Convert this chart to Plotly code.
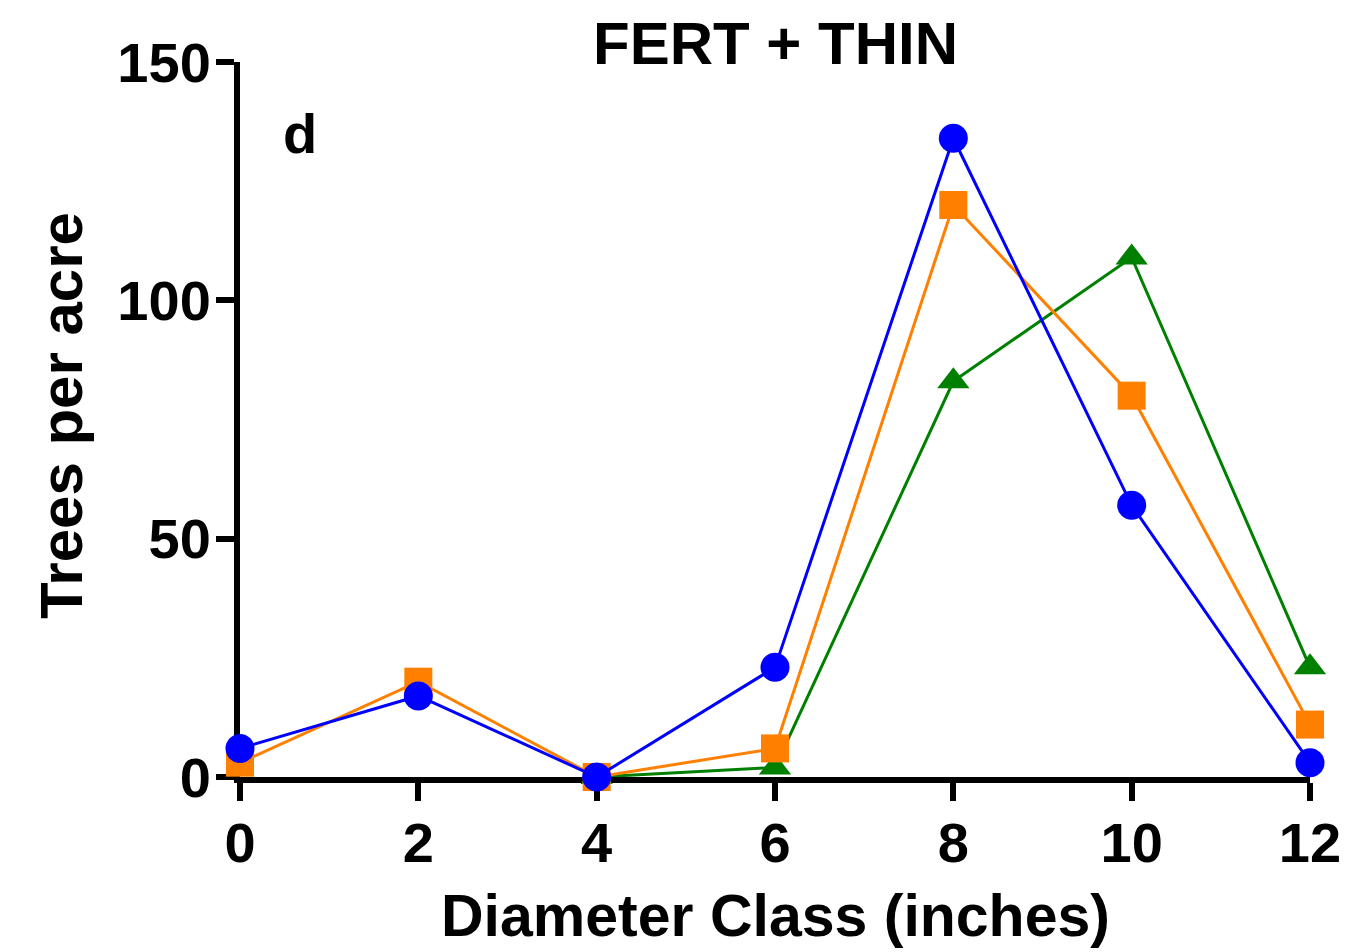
import plotly.graph_objects as go

diameter = [0, 2, 4, 6, 8, 10, 12]
blue_vals = [6, 17, 0, 23, 134, 57, 3]
orange_vals = [3, 20, 0, 6, 120, 80, 11]
green_vals = [None, None, 0, 2, 83, 109, 23]
x_ticks = [0, 2, 4, 6, 8, 10, 12]
y_ticks = [0, 50, 100, 150]

FONT = "Liberation Sans, Arial, sans-serif"

fig = go.Figure()
fig.add_trace(go.Scatter(
    x=diameter, y=green_vals, mode="lines+markers", cliponaxis=False,
    line=dict(color="#008000", width=3),
    marker=dict(symbol="triangle-up", size=28, color="#008000"),
    showlegend=False))
fig.add_trace(go.Scatter(
    x=diameter, y=orange_vals, mode="lines+markers", cliponaxis=False,
    line=dict(color="#FF8000", width=3),
    marker=dict(symbol="square", size=28, color="#FF8000"),
    showlegend=False))
fig.add_trace(go.Scatter(
    x=diameter, y=blue_vals, mode="lines+markers", cliponaxis=False,
    line=dict(color="#0000FF", width=3),
    marker=dict(symbol="circle", size=29, color="#0000FF"),
    showlegend=False))

axis_common = dict(showgrid=False, zeroline=False, showline=True, linecolor="black",
                   linewidth=6, ticks="outside", ticklen=18, tickwidth=6, tickcolor="black",
                   tickfont=dict(family=FONT, size=56, color="black", weight="bold"),
                   ticklabelstandoff=-6,
                   layer="below traces", automargin=False)

fig.update_layout(
    width=1356, height=952,
    margin=dict(l=240, r=46, t=62, b=175),
    paper_bgcolor="white", plot_bgcolor="white",
    font=dict(family=FONT, size=56, color="black"),
    xaxis=dict(range=[0, 12], tickvals=x_ticks, ticktext=[str(v) for v in x_ticks], **axis_common),
    yaxis=dict(range=[0, 150], tickvals=y_ticks, ticktext=[str(v) for v in y_ticks], **axis_common),
    annotations=[
        dict(text="<b>FERT + THIN</b>", x=(775 - 240) / 1070, xref="paper", y=1, yref="paper",
             xanchor="center", yanchor="middle", yshift=19,
             showarrow=False, font=dict(family=FONT, size=60)),
        dict(text="<b>Diameter Class (inches)</b>", x=(775 - 240) / 1070, xref="paper", y=0, yref="paper",
             xanchor="center", yanchor="middle", yshift=-139, showarrow=False,
             font=dict(family=FONT, size=59)),
        dict(text="<b>Trees per acre</b>", x=0, xref="paper", y=(777 - 416) / 715, yref="paper",
             xanchor="center", yanchor="middle", xshift=-179, textangle=-90, showarrow=False,
             font=dict(family=FONT, size=60)),
        dict(text="<b>d</b>", x=0.67, xref="x", y=135, yref="y",
             xanchor="center", yanchor="middle", showarrow=False,
             font=dict(family=FONT, size=56)),
    ],
)

fig.write_html("out.html", config={"displayModeBar": False},
               post_script="document.body.style.margin='0';document.body.style.overflow='hidden';")
